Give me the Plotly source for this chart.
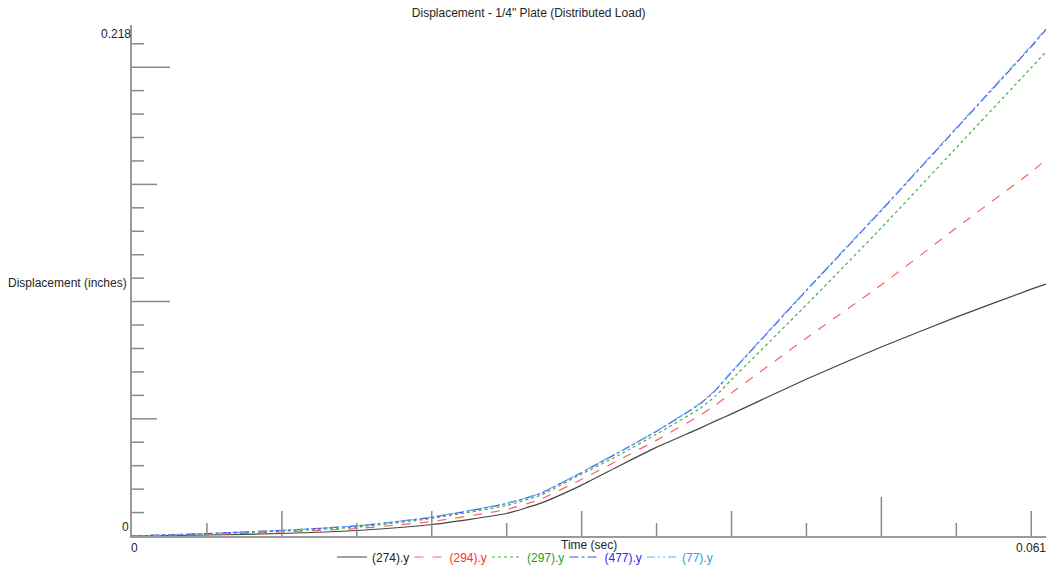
import plotly.graph_objects as go

# ---- data ----
time_s = [0, 0.00509, 0.01018, 0.01527, 0.02036, 0.02538, 0.02768, 0.03047, 0.03311,
          0.03556, 0.03854, 0.03956, 0.04064, 0.04573, 0.05082, 0.05591, 0.0610, 0.0620]
node_274 = [0, 0.00043, 0.00107, 0.00235, 0.0049, 0.0096, 0.0139, 0.0216, 0.0301,
            0.0378, 0.0460, 0.0490, 0.0520, 0.0669, 0.0806, 0.0934, 0.1053, 0.1075]
node_294 = [0, 0.00064, 0.00171, 0.0032, 0.0062, 0.0113, 0.0156, 0.0241, 0.0327,
            0.0408, 0.0515, 0.0558, 0.0609, 0.0844, 0.1071, 0.1314, 0.1553, 0.1605]
node_297 = [0, 0.00085, 0.0021, 0.0038, 0.0075, 0.0130, 0.0173, 0.0263, 0.0348,
            0.0434, 0.0545, 0.0596, 0.0665, 0.0985, 0.1314, 0.1656, 0.1998, 0.2066]
node_477 = [0, 0.00105, 0.0024, 0.0043, 0.0080, 0.0138, 0.0181, 0.0270, 0.0360,
            0.0446, 0.0564, 0.0620, 0.0697, 0.1046, 0.1388, 0.1738, 0.2088, 0.2160]
node_77 = [0, 0.00107, 0.0024, 0.0043, 0.0081, 0.0139, 0.0182, 0.0271, 0.0361,
           0.0447, 0.0566, 0.0622, 0.0699, 0.1049, 0.1391, 0.1741, 0.2092, 0.2165]

series_names = ["(274).y", "(294).y", "(297).y", "(477).y", "(77).y"]

x_max_label = 0.061
x_range_end = 0.0620
y_max = 0.218
x_tick_step = 0.061 / 12
y_tick_step = 0.01

title_text = "Displacement - 1/4\" Plate (Distributed Load)"
x_title = "Time (sec)"
y_title = "Displacement (inches)"

# ---- styles ----
line_colors = ["#454545", "#ff5f5f", "#45b045", "#4a4aee", "#5ab0ee"]
text_colors = ["#222222", "#ff2a2a", "#22a022", "#2a2aff", "#2a9be0"]
dashes = ["solid", "dash", "dot", "dashdot", "8px,3px,2px,3px,2px,3px"]
FONT = "Liberation Sans"
FS = 12
TXT = "#262626"

fig = go.Figure()
ys = [node_274, node_294, node_297, node_477, node_77]
for name, y, lc, tc, d in zip(series_names, ys, line_colors, text_colors, dashes):
    fig.add_trace(go.Scatter(
        x=time_s, y=y, mode="lines",
        name=f"<span style='color:{tc}'>{name}</span>",
        line=dict(color=lc, width=1.2, dash=d, shape="spline", smoothing=0.5),
        hoverinfo="skip",
    ))

shapes = []
tick_col = "#8a8a8a"
# x-axis ticks (upward)
for k in range(1, 13):
    v = k * x_tick_step
    if k == 10:
        L = 39
    elif k % 2 == 0:
        L = 25
    else:
        L = 13
    shapes.append(dict(type="line", xref="x", yref="y", ysizemode="pixel", yanchor=0,
                       x0=v, x1=v, y0=0, y1=L, line=dict(color=tick_col, width=1.5)))
# y-axis ticks (rightward)
for k in range(1, 22):
    v = k * y_tick_step
    if k % 10 == 0:
        L = 38
    elif k % 5 == 0:
        L = 25
    else:
        L = 12
    shapes.append(dict(type="line", xref="x", yref="y", xsizemode="pixel", xanchor=0,
                       x0=0, x1=L, y0=v, y1=v, line=dict(color=tick_col, width=1.5)))

afont = dict(size=FS, color=TXT, family=FONT)
annotations = [
    dict(text="0.218", x=0, y=y_max, xref="x", yref="y", xanchor="right", yanchor="top",
         xshift=1, yshift=0, showarrow=False, font=afont),
    dict(text="0", x=0, y=0, xref="x", yref="y", xanchor="right", yanchor="bottom",
         xshift=-1, yshift=0, showarrow=False, font=afont),
    dict(text="0", x=0, y=0, xref="x", yref="y", xanchor="center", yanchor="top",
         xshift=2, yshift=-3, showarrow=False, font=afont),
    dict(text="0.061", x=x_max_label, y=0, xref="x", yref="y", xanchor="center", yanchor="top",
         yshift=-3, showarrow=False, font=afont),
    dict(text=y_title, x=0, y=0.5, xref="paper", yref="paper", xanchor="right", yanchor="middle",
         xshift=-3, yshift=-2, showarrow=False, font=afont),
    dict(text=x_title, x=0.5, y=0, xref="paper", yref="paper", xanchor="center", yanchor="top",
         yshift=0, showarrow=False, font=afont),
]

fig.update_layout(
    width=1049, height=569,
    margin=dict(l=132, r=3, t=25, b=33, autoexpand=False),
    paper_bgcolor="white", plot_bgcolor="white",
    font=dict(family=FONT, size=FS, color=TXT),
    title=dict(text=title_text, x=0.504, xref="container", xanchor="center",
               y=1 - 13 / 569, yref="container", yanchor="middle",
               font=afont),
    xaxis=dict(range=[0, x_range_end], showgrid=False, zeroline=False, showticklabels=False,
               ticks="", showline=True, linecolor="#9a9a9a", linewidth=2),
    yaxis=dict(range=[0, y_max], showgrid=False, zeroline=False, showticklabels=False,
               ticks="", showline=True, linecolor="#9a9a9a", linewidth=2),
    showlegend=True,
    legend=dict(orientation="h", x=(332 - 132) / 914, xanchor="left",
                y=(569 - 557) / 569, yref="container", yanchor="middle",
                bgcolor="rgba(0,0,0,0)",
                font=dict(size=FS, family=FONT), itemwidth=30,
                entrywidth=32.5, entrywidthmode="pixels"),
    shapes=shapes,
    annotations=annotations,
)

fig.write_html("out.html",
               config={"displayModeBar": False},
               post_script="document.body.style.margin='0';document.body.style.padding='0';")
